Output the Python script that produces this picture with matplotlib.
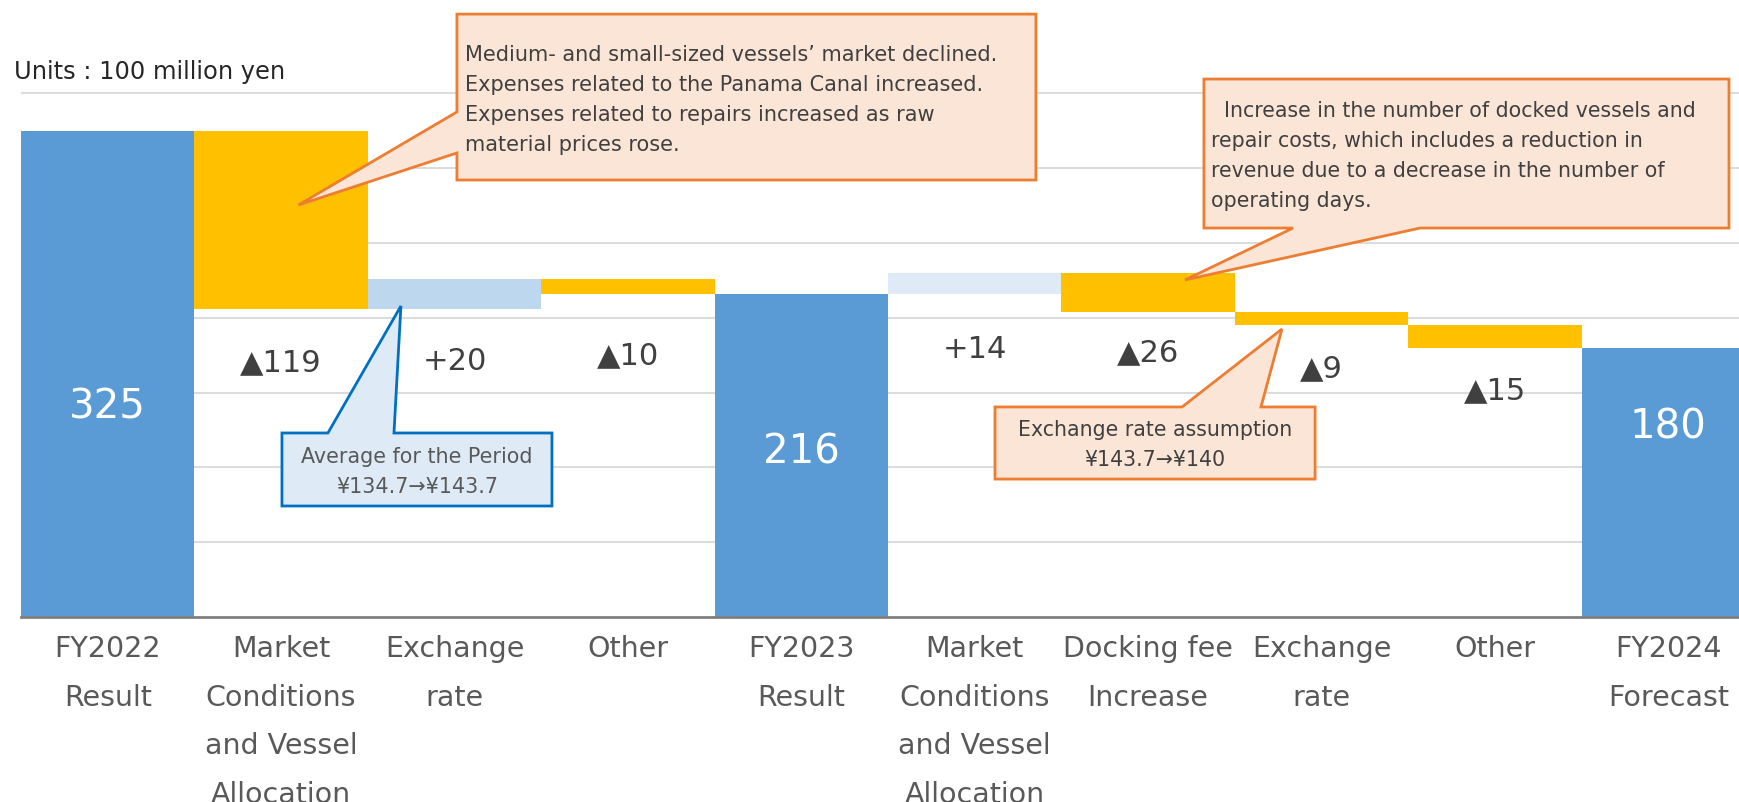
import matplotlib
matplotlib.use("Agg")
import matplotlib.pyplot as plt
from matplotlib.patches import Polygon

# ---------------- data ----------------
categories = [
    "FY2022\nResult",
    "Market\nConditions\nand Vessel\nAllocation",
    "Exchange\nrate",
    "Other",
    "FY2023\nResult",
    "Market\nConditions\nand Vessel\nAllocation",
    "Docking fee\nIncrease",
    "Exchange\nrate",
    "Other",
    "FY2024\nForecast",
]
# None = total bar, number = change
totals = [325, None, None, None, 216, None, None, None, None, 180]
changes = [None, -119, 20, -10, None, 14, -26, -9, -15, None]
# y positions of the change labels (value units)
change_label_y = [None, 170, 170.5, 175, None, 179, 176.5, 166, 151, None]
total_label_y = [140, None, None, None, 110, None, None, None, None, 126.5]

BLUE = "#5B9BD5"
YELLOW = "#FFC000"
LIGHT1 = "#BDD7EE"
LIGHT2 = "#DEEBF7"
pos_colors = {2: LIGHT1, 5: LIGHT2}

W, H = 1740, 802
fig = plt.figure(figsize=(W / 100, H / 100), dpi=100)
x_left, x_right = 21, 21 + 10 * 173.4
y_base = 617
px_per_unit = 1.496
ytop = 360
ax = fig.add_axes([x_left / W, (H - y_base) / H, (x_right - x_left) / W,
                   ytop * px_per_unit / H])
ax.set_xlim(-0.5, 9.5)
ax.set_ylim(0, ytop)

# gridlines
for gy in range(50, 351, 50):
    ax.axhline(gy, color="#D9D9D9", lw=1.3, zorder=0)

running = 0
for i in range(len(categories)):
    if totals[i] is not None:
        running = totals[i]
        ax.bar(i, totals[i], width=1.0, color=BLUE, zorder=2)
        ax.text(i, total_label_y[i], str(totals[i]), color="white",
                ha="center", va="center", fontsize=29, zorder=3)
    else:
        d = changes[i]
        if d < 0:
            ax.bar(i, -d, bottom=running + d, width=1.0, color=YELLOW, zorder=2)
            lab = "\u25B2" + str(-d)
        else:
            ax.bar(i, d, bottom=running, width=1.0,
                   color=pos_colors.get(i, LIGHT1), zorder=2)
            lab = "+" + str(d)
        running += d
        ax.text(i, change_label_y[i], lab, color="#404040", ha="center",
                va="center", fontsize=22, zorder=3)

ax.set_xticks(range(len(categories)))
ax.set_xticklabels(categories, fontsize=20.5, color="#595959",
                   linespacing=1.94)
ax.tick_params(axis="x", length=0, pad=13)
ax.set_yticks([])
for s in ["left", "right", "top"]:
    ax.spines[s].set_visible(False)
ax.spines["bottom"].set_color("#808080")
ax.spines["bottom"].set_linewidth(2)
ax.spines["bottom"].set_zorder(4)


def callout(box, side, a, b, tip, fc, ec):
    x0, y0, x1, y1 = box
    if side == "left":
        verts = [(x0, y1), (x1, y1), (x1, y0), (x0, y0), (x0, a), tip, (x0, b)]
    elif side == "bottom":
        verts = [(x0, y1), (x1, y1), (x1, y0), (b, y0), tip, (a, y0), (x0, y0)]
    else:  # top
        verts = [(x0, y1), (a, y1), tip, (b, y1), (x1, y1), (x1, y0), (x0, y0)]
    p = Polygon(verts, closed=True, fc=fc, ec=ec, lw=2, zorder=6,
                clip_on=False, joinstyle="miter")
    ax.add_patch(p)


ORF, ORE = "#FBE5D6", "#ED7D31"
BLF, BLE = "#DEEBF7", "#0070C0"
TXT = "#404040"

# box 1
callout((2.014, 292.1, 5.353, 403.0), "left", 310.2, 337.6, (1.10, 275.4), ORF, ORE)
ax.text(2.06, 345.5, "Medium- and small-sized vessels\u2019 market declined.\n"
        "Expenses related to the Panama Canal increased.\n"
        "Expenses related to repairs increased as raw\n"
        "material prices rose.", ha="left", va="center", fontsize=15,
        color=TXT, linespacing=1.62, zorder=7, clip_on=False)

# box 2
callout((6.322, 260.0, 9.350, 359.6), "bottom", 6.836, 7.568, (6.213, 225.3), ORF, ORE)
ax.text(6.363, 308.2, "  Increase in the number of docked vessels and\n"
        "repair costs, which includes a reduction in\n"
        "revenue due to a decrease in the number of\n"
        "operating days.", ha="left", va="center", fontsize=14.8,
        color=TXT, linespacing=1.62, zorder=7, clip_on=False)

# box 3
callout((5.117, 92.2, 6.963, 140.4), "top", 6.196, 6.651, (6.772, 192.5), ORF, ORE)
ax.text(6.04, 115, "Exchange rate assumption\n\u00A5143.7\u2192\u00A5140",
        ha="center", va="center", fontsize=14.8, color=TXT, linespacing=1.65,
        zorder=7)

# box 4
callout((1.005, 74.2, 2.562, 123.0), "top", 1.270, 1.651, (1.691, 207.9), BLF, BLE)
ax.text(1.784, 97, "Average for the Period\n\u00A5134.7\u2192\u00A5143.7",
        ha="center", va="center", fontsize=14.9, color="#595959",
        linespacing=1.6, zorder=7)

fig.text(14 / W, 1 - 72 / H, "Units : 100 million yen", fontsize=17.4,
         color="#262626", ha="left", va="center")

fig.savefig("out.png", dpi=100)
